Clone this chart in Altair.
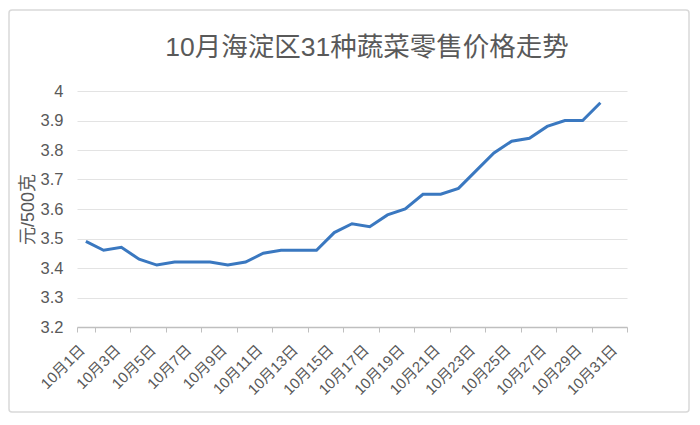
import altair as alt
import pandas as pd

days = [f"10月{d}日" for d in range(1, 32)]
price_days = days[:30]
prices = [3.49, 3.46, 3.47, 3.43, 3.41, 3.42, 3.42, 3.42, 3.41, 3.42,
          3.45, 3.46, 3.46, 3.46, 3.52, 3.55, 3.54, 3.58, 3.60, 3.65,
          3.65, 3.67, 3.73, 3.79, 3.83, 3.84, 3.88, 3.90, 3.90, 3.96]
x_label_values = days[0::2]
y_ticks = [3.2, 3.3, 3.4, 3.5, 3.6, 3.7, 3.8, 3.9, 4.0]
title_text = "10月海淀区31种蔬菜零售价格走势"

df = pd.DataFrame({"day": price_days, "price": prices})

FONT = "Liberation Sans, Arial, Noto Sans CJK SC, sans-serif"
GRAY = "#595959"

border = alt.Chart(alt.Data(values=[{"a": 1}])).mark_rect(
    fill="white", fillOpacity=0, stroke="#d9d9d9", strokeWidth=1.5, cornerRadius=3
).encode(
    x=alt.value(-68), x2=alt.value(612),
    y=alt.value(-81), y2=alt.value(321),
)

title = alt.Chart(alt.Data(values=[{"t": title_text}])).mark_text(
    font=FONT, fontSize=26.5, color=GRAY, align="center", baseline="alphabetic"
).encode(
    text="t:N", x=alt.value(290), y=alt.value(-35),
)

line = alt.Chart(df).mark_line(color="#3a78c0", strokeWidth=3).encode(
    x=alt.X("day:N", sort=None,
            scale=alt.Scale(domain=days, paddingInner=0, paddingOuter=0),
            axis=alt.Axis(values=x_label_values, title=None, labelAngle=-45,
                          labelAlign="right", labelBaseline="middle",
                          labelPadding=15, labelOffset=-4, tickBand="extent", tickSize=5,
                          tickColor="#bfbfbf", domainColor="#bfbfbf",
                          domainWidth=1.5, labelColor=GRAY, labelFontSize=15,
                          labelFont=FONT, grid=False)),
    y=alt.Y("price:Q",
            scale=alt.Scale(domain=[3.2, 4.0], nice=False, zero=False),
            axis=alt.Axis(values=y_ticks, format=".1~f", title="元/500克",
                          titleFont=FONT, titleFontSize=18, titleFontWeight="normal",
                          titleColor=GRAY, titlePadding=3, labelPadding=14,
                          labelColor=GRAY, labelFontSize=16.5, labelFont=FONT,
                          domain=False, ticks=False, gridColor="#e3e3e3",
                          gridWidth=1.2)),
)

chart = alt.layer(border, title, line).properties(
    width=550, height=236,
    padding={"left": 69, "top": 83, "right": 63, "bottom": 86},
    autosize=alt.AutoSizeParams(type="none"),
).configure_view(stroke=None)

chart.save("out.html", embed_options={"renderer": "svg", "actions": False})
